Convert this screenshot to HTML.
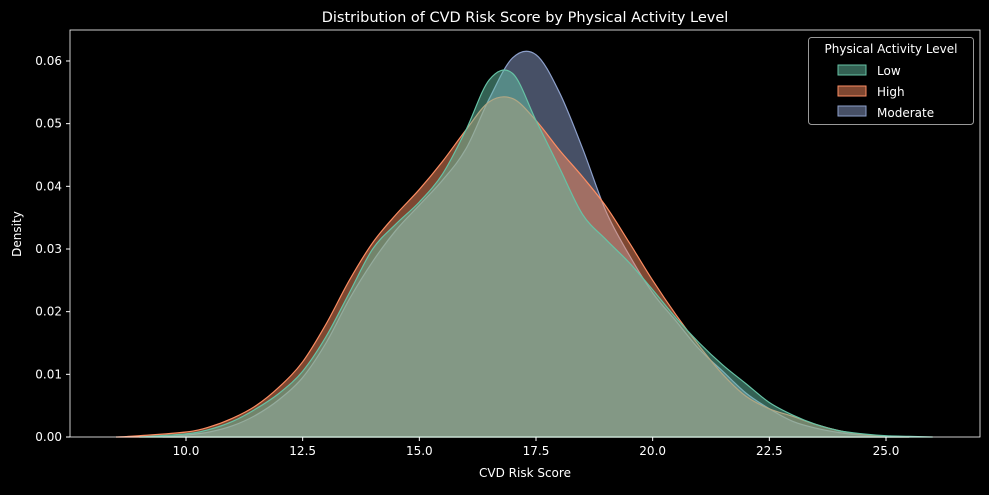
<!DOCTYPE html>
<html><head><meta charset="utf-8"><style>
body{margin:0;background:#000;}
svg text{font-family:"DejaVu Sans","Liberation Sans",sans-serif;fill:#fff;}
</style></head><body>
<svg width="989" height="490" viewBox="0 0 989 490" xmlns="http://www.w3.org/2000/svg">
<rect width="989" height="490" fill="#000"/>
<g id="plot"></g>
<rect x="70" y="30" width="910" height="407" fill="none" stroke="#fff" stroke-width="0.8"/>
<g id="axes"></g>
<text x="525" y="22" font-size="14.5" text-anchor="middle">Distribution of CVD Risk Score by Physical Activity Level</text>
<text x="525" y="477" font-size="12" text-anchor="middle">CVD Risk Score</text>
<text x="21" y="234" font-size="12" text-anchor="middle" transform="rotate(-90 21 234)">Density</text>
<g>
<rect x="808.5" y="37.5" width="165" height="87" rx="3" fill="#000" stroke="#aaa" stroke-width="1" opacity="0.9"/>
<text x="891" y="53" font-size="12" text-anchor="middle">Physical Activity Level</text>
<g><rect x="838" y="65" width="28" height="10" fill="rgba(102,194,165,0.5)" stroke="#66c2a5"/><text x="877" y="75" font-size="12">Low</text></g>
<g><rect x="838" y="86" width="28" height="10" fill="rgba(252,141,98,0.5)" stroke="#fc8d62"/><text x="877" y="96" font-size="12">High</text></g>
<g><rect x="838" y="106" width="28" height="10" fill="rgba(141,160,203,0.5)" stroke="#8da0cb"/><text x="877" y="117" font-size="12">Moderate</text></g>
</g>
</svg>
<script>
const xTicks=[10,12.5,15,17.5,20,22.5,25];
const yTicks=[0,0.01,0.02,0.03,0.04,0.05,0.06];
const lowX=[9,10,10.5,11,11.5,12,12.5,13,13.5,14,14.5,15,15.5,16,16.5,17,17.5,18,18.5,19,19.5,20,20.5,21,21.5,22,22.5,23,23.5,24,24.5,25,25.5,26];
const lowY=[0,0.0005,0.0012,0.0025,0.0045,0.007,0.0105,0.016,0.023,0.03,0.034,0.0375,0.042,0.049,0.057,0.058,0.0505,0.043,0.0355,0.0315,0.0278,0.0235,0.019,0.015,0.0115,0.0085,0.0055,0.0035,0.002,0.001,0.0005,0.0002,0.0001,0];
const highX=[8.5,9,10,10.5,11,11.5,12,12.5,13,13.5,14,14.5,15,15.5,16,16.5,17,17.5,18,18.5,19,19.5,20,20.5,21,21.5,22,22.5,23,23.5,24,24.5,25,25.5];
const highY=[0,0.0002,0.0008,0.0016,0.003,0.005,0.008,0.012,0.018,0.025,0.031,0.0355,0.0395,0.044,0.049,0.0535,0.054,0.0505,0.0458,0.0415,0.0368,0.031,0.025,0.0195,0.0145,0.01,0.0065,0.0045,0.0033,0.002,0.001,0.0004,0.0001,0];
const modX=[9.5,10,10.5,11,11.5,12,12.5,13,13.5,14,14.5,15,15.5,16,16.5,17,17.5,18,18.5,19,19.5,20,20.5,21,21.5,22,22.5,23,23.5,24,24.5,25,25.5];
const modY=[0,0.0003,0.0008,0.0018,0.0035,0.006,0.0095,0.015,0.022,0.028,0.033,0.037,0.041,0.046,0.054,0.0605,0.061,0.055,0.046,0.036,0.029,0.023,0.0185,0.014,0.0105,0.007,0.0045,0.0025,0.0014,0.0007,0.0003,0.0001,0];
const NS="http://www.w3.org/2000/svg";
const sx=v=>186+(v-10)*46.667;
const sy=v=>437-v*6267;
const plot=document.getElementById('plot'),axes=document.getElementById('axes');
function path(xs,ys){
  const p=xs.map((x,i)=>[sx(x),sy(ys[i])]);
  let d=`M${p[0][0]},${sy(0)} L${p[0][0]},${p[0][1]}`;
  for(let i=0;i<p.length-1;i++){
    const p0=p[Math.max(0,i-1)],p1=p[i],p2=p[i+1],p3=p[Math.min(p.length-1,i+2)];
    const c1=[p1[0]+(p2[0]-p0[0])/6,p1[1]+(p2[1]-p0[1])/6];
    const c2=[p2[0]-(p3[0]-p1[0])/6,p2[1]-(p3[1]-p1[1])/6];
    d+=` C${c1[0]},${Math.min(c1[1],sy(0))} ${c2[0]},${Math.min(c2[1],sy(0))} ${p2[0]},${p2[1]}`;
  }
  return d+` L${p[p.length-1][0]},${sy(0)} Z`;
}
function series(xs,ys,col,name){
  const e=document.createElementNS(NS,'path');
  e.setAttribute('d',path(xs,ys));
  e.setAttribute('fill',col);e.setAttribute('fill-opacity','0.5');
  e.setAttribute('stroke',col);e.setAttribute('stroke-width','1.2');
  
  
  plot.appendChild(e);
}
series(modX,modY,'#8da0cb','density-moderate');
series(highX,highY,'#fc8d62','density-high');
series(lowX,lowY,'#66c2a5','density-low');
xTicks.forEach(v=>{
  const l=document.createElementNS(NS,'line');
  l.setAttribute('x1',sx(v));l.setAttribute('x2',sx(v));l.setAttribute('y1',437);l.setAttribute('y2',441);l.setAttribute('stroke','#fff');
  
  
  axes.appendChild(l);
  const t=document.createElementNS(NS,'text');
  t.setAttribute('x',sx(v));t.setAttribute('y',455);t.setAttribute('font-size','12');t.setAttribute('text-anchor','middle');
  t.textContent=v.toFixed(1);
  
  
  axes.appendChild(t);
});
yTicks.forEach(v=>{
  const l=document.createElementNS(NS,'line');
  l.setAttribute('x1',66);l.setAttribute('x2',70);l.setAttribute('y1',sy(v));l.setAttribute('y2',sy(v));l.setAttribute('stroke','#fff');
  
  
  axes.appendChild(l);
  const t=document.createElementNS(NS,'text');
  t.setAttribute('x',62);t.setAttribute('y',sy(v)+4);t.setAttribute('font-size','12');t.setAttribute('text-anchor','end');
  t.textContent=v.toFixed(2);
  
  
  axes.appendChild(t);
});
</script>
</body></html>
